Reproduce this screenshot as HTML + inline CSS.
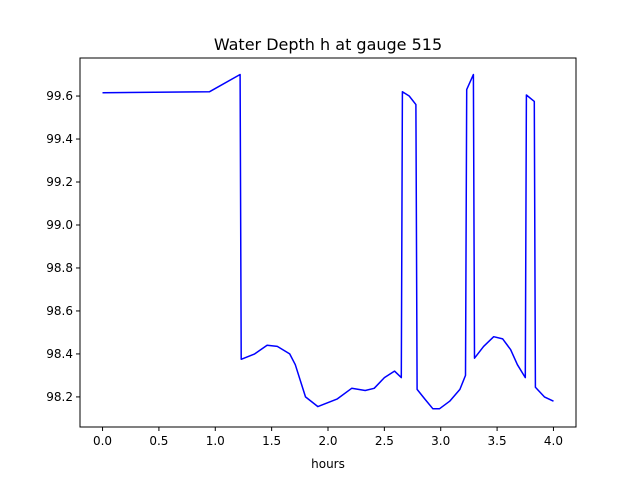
<!DOCTYPE html>
<html><head><meta charset="utf-8"><style>
body{margin:0;background:#fff;font-family:"Liberation Sans","DejaVu Sans",sans-serif}
svg text{font-family:"DejaVu Sans","Liberation Sans",sans-serif}
</style></head><body>
<svg id="chart" width="640" height="480" xmlns="http://www.w3.org/2000/svg">
<rect width="640" height="480" fill="#fff"/>
<text x="328" y="50" font-size="16" text-anchor="middle">Water Depth h at gauge 515</text>
<g id="plot"></g>
<rect x="80" y="58" width="496" height="369" fill="none" stroke="#000" stroke-width="1"/>
<text x="328" y="468" font-size="12" text-anchor="middle">hours</text>
</svg>
<script>
const hours=[0,0.95,1.22,1.23,1.35,1.46,1.55,1.66,1.71,1.80,1.91,2.08,2.21,2.33,2.41,2.50,2.59,2.65,2.66,2.72,2.78,2.79,2.86,2.93,2.99,3.08,3.17,3.22,3.23,3.29,3.30,3.38,3.47,3.55,3.62,3.68,3.75,3.76,3.83,3.84,3.92,4.0];
const depth=[99.615,99.62,99.70,98.375,98.40,98.44,98.435,98.40,98.35,98.20,98.155,98.19,98.24,98.23,98.24,98.29,98.32,98.29,99.62,99.60,99.56,98.235,98.19,98.145,98.145,98.18,98.235,98.30,99.63,99.70,98.38,98.435,98.48,98.47,98.42,98.35,98.29,99.605,99.575,98.245,98.20,98.18];
const xTicks=[0,0.5,1.0,1.5,2.0,2.5,3.0,3.5,4.0];
const yTicks=[98.2,98.4,98.6,98.8,99.0,99.2,99.4,99.6];
const X0=80,X1=576,Y0=58,Y1=427;
const xmin=-0.2,xmax=4.2,ymin=98.06,ymax=99.777;
const sx=v=>X0+(v-xmin)/(xmax-xmin)*(X1-X0);
const sy=v=>Y1-(v-ymin)/(ymax-ymin)*(Y1-Y0);
const NS="http://www.w3.org/2000/svg";
const g=document.getElementById('plot');
function el(t,a){const e=document.createElementNS(NS,t);for(const k in a)e.setAttribute(k,a[k]);g.appendChild(e);return e;}
xTicks.forEach(t=>{
 const l=el('line',{x1:sx(t),x2:sx(t),y1:Y1,y2:Y1+4,stroke:'#000'});
 
 
 const tx=el('text',{x:sx(t),y:Y1+18,'font-size':12,'text-anchor':'middle'});
 tx.textContent=t.toFixed(1);
 
 
});
yTicks.forEach(t=>{
 const l=el('line',{x1:X0-4,x2:X0,y1:sy(t),y2:sy(t),stroke:'#000'});
 
 
 const tx=el('text',{x:X0-7,y:sy(t)+4,'font-size':12,'text-anchor':'end'});
 tx.textContent=t.toFixed(1);
 
 
});
const pts=hours.map((h,i)=>sx(h).toFixed(1)+','+sy(depth[i]).toFixed(1)).join(' ');
const line=el('polyline',{points:pts,fill:'none',stroke:'#0000ff','stroke-width':1.5,'stroke-linejoin':'round'});


</script>
</body></html>
